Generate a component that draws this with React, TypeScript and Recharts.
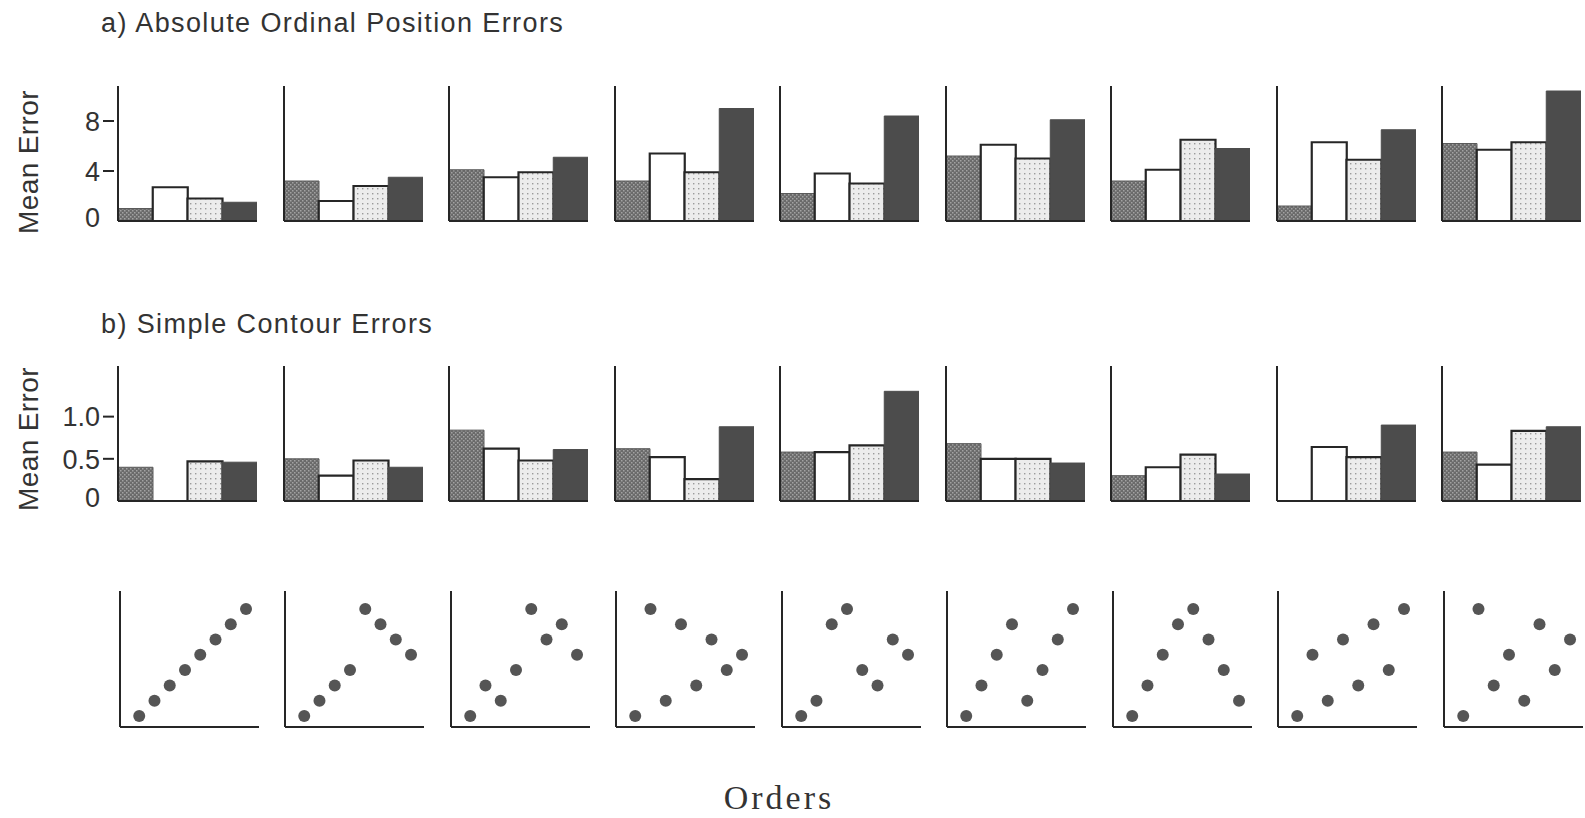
import { BarChart, Bar, XAxis, YAxis, Cell, ScatterChart, Scatter } from "recharts";

// four bars per order panel
const barKinds = ["1", "2", "3", "4"];

// a) absolute ordinal position errors, one row per order
const absoluteErrors: number[][] = [
  [1.0, 2.7, 1.8, 1.5],
  [3.2, 1.6, 2.8, 3.5],
  [4.1, 3.5, 3.9, 5.1],
  [3.2, 5.4, 3.9, 9.0],
  [2.2, 3.8, 3.0, 8.4],
  [5.2, 6.1, 5.0, 8.1],
  [3.2, 4.1, 6.5, 5.8],
  [1.2, 6.3, 4.9, 7.3],
  [6.2, 5.7, 6.3, 10.4],
];
const absoluteTicks = [0, 4, 8];

// b) simple contour errors
const contourErrors: number[][] = [
  [0.4, 0, 0.47, 0.46],
  [0.5, 0.3, 0.48, 0.4],
  [0.84, 0.62, 0.48, 0.61],
  [0.62, 0.52, 0.26, 0.88],
  [0.58, 0.58, 0.66, 1.3],
  [0.68, 0.5, 0.5, 0.45],
  [0.3, 0.4, 0.55, 0.32],
  [0, 0.64, 0.52, 0.9],
  [0.58, 0.43, 0.83, 0.88],
];
const contourTicks = [0, 0.5, 1.0];
const contourTickLabels = ["0", "0.5", "1.0"];

// the orders: rank of each serial position
const positions = [1, 2, 3, 4, 5, 6, 7, 8];
const orderRanks: number[][] = [
  [1, 2, 3, 4, 5, 6, 7, 8],
  [1, 2, 3, 4, 8, 7, 6, 5],
  [1, 3, 2, 4, 8, 6, 7, 5],
  [1, 8, 2, 7, 3, 6, 4, 5],
  [1, 2, 7, 8, 4, 3, 6, 5],
  [1, 3, 5, 7, 2, 4, 6, 8],
  [1, 3, 5, 7, 8, 6, 4, 2],
  [1, 5, 2, 6, 3, 7, 4, 8],
  [1, 8, 3, 5, 2, 7, 4, 6],
];

const PITCH = 165.5;
const FIRST_X = 118;
const PANEL_W = 139;
const PLOT_H = 135;
const PAD_B = 18;
const INK = "#262626";
const TEXT = "#333333";
const SANS = "'Liberation Sans', Arial, Helvetica, sans-serif";

const fills = ["url(#texDark)", "#ffffff", "url(#texLight)", "#4c4c4c"];
const strokes = ["#5a5a5a", INK, INK, "#4c4c4c"];
const strokeWidths = [1, 2.2, 2.2, 1];

function makeTick(ticks: number[], labels: string[]) {
  return (props: any) => {
    const { x, y, payload } = props;
    const v = payload.value;
    const label = labels[ticks.indexOf(v)] ?? String(v);
    return (
      <g>
        {v !== 0 && (
          <line x1={x - 15} x2={x - 4} y1={y} y2={y} stroke={INK} strokeWidth={2} />
        )}
        <text
          x={x - 18}
          y={v === 0 ? y - 4 : y}
          dy="0.36em"
          textAnchor="end"
          fill={TEXT}
          fontSize={27}
          fontFamily={SANS}
        >
          {label}
        </text>
      </g>
    );
  };
}

function BarPanel({
  values,
  index,
  max,
  ticks,
  labels,
  top,
}: {
  values: number[];
  index: number;
  max: number;
  ticks: number[];
  labels: string[];
  top: number;
}) {
  const first = index === 0;
  const yw = first ? 110 : 4;
  const data = barKinds.map((k, i) => ({ kind: k, v: values[i] }));
  const left = FIRST_X + index * PITCH - yw;
  return (
    <div style={{ position: "absolute", left, top }}>
      <BarChart
        width={yw + PANEL_W}
        height={PLOT_H + 1 + PAD_B}
        data={data}
        margin={{ top: 0, right: 0, bottom: PAD_B, left: 0 }}
        barCategoryGap={0}
        barGap={0}
      >
        <XAxis
          dataKey="kind"
          tick={false}
          tickLine={false}
          height={1}
          axisLine={{ stroke: INK, strokeWidth: 2 }}
        />
        <YAxis
          type="number"
          domain={[0, max]}
          ticks={ticks}
          interval={0}
          width={yw}
          tickSize={0}
          tickMargin={0}
          tickLine={false}
          axisLine={{ stroke: INK, strokeWidth: 2 }}
          tick={first ? makeTick(ticks, labels) : false}
          allowDataOverflow
        />
        <Bar dataKey="v" isAnimationActive={false}>
          {data.map((d, i) => (
            <Cell key={d.kind} fill={fills[i]} stroke={strokes[i]} strokeWidth={strokeWidths[i]} />
          ))}
        </Bar>
      </BarChart>
    </div>
  );
}

function OrderPanel({ ranks, index }: { ranks: number[]; index: number }) {
  const data = positions.map((p, i) => ({ pos: p, rank: ranks[i] }));
  return (
    <div style={{ position: "absolute", left: FIRST_X + 1.5 + index * PITCH - 4, top: 591 }}>
      <ScatterChart width={4 + PANEL_W} height={136 + 1} margin={{ top: 0, right: 0, bottom: 0, left: 0 }}>
        <XAxis
          type="number"
          dataKey="pos"
          domain={[-0.26, 8.85]}
          tick={false}
          tickLine={false}
          height={1}
          axisLine={{ stroke: INK, strokeWidth: 2 }}
          allowDataOverflow
        />
        <YAxis
          type="number"
          dataKey="rank"
          domain={[0.28, 9.17]}
          tick={false}
          tickLine={false}
          width={4}
          axisLine={{ stroke: INK, strokeWidth: 2 }}
          allowDataOverflow
        />
        <Scatter
          data={data}
          isAnimationActive={false}
          shape={(p: any) => <circle cx={p.cx} cy={p.cy} r={6} fill="#555555" />}
        />
      </ScatterChart>
    </div>
  );
}

const titleStyle: React.CSSProperties = {
  position: "absolute",
  fontFamily: SANS,
  fontSize: 27,
  letterSpacing: 1.4,
  lineHeight: 1,
  color: TEXT,
  whiteSpace: "nowrap",
};

const meanStyle: React.CSSProperties = {
  position: "absolute",
  fontFamily: SANS,
  fontSize: 28,
  letterSpacing: 0.4,
  lineHeight: 1,
  color: TEXT,
  whiteSpace: "nowrap",
  transform: "translate(-50%, -50%) rotate(-90deg)",
};

export default function App() {
  return (
    <div
      style={{
        position: "absolute",
        left: 0,
        top: 0,
        width: 1585,
        height: 818,
        background: "#ffffff",
        overflow: "hidden",
      }}
    >
      <svg width={0} height={0} style={{ position: "absolute" }}>
        <defs>
          <pattern id="texDark" width={4} height={4} patternUnits="userSpaceOnUse">
            <rect width={4} height={4} fill="#6a6a6a" />
            <rect x={0} y={0} width={1.5} height={1.5} fill="#a2a2a2" />
            <rect x={2} y={2} width={1.5} height={1.5} fill="#a2a2a2" />
          </pattern>
          <pattern id="texLight" width={5} height={5} patternUnits="userSpaceOnUse">
            <rect width={5} height={5} fill="#ececec" />
            <rect x={2} y={2} width={1.4} height={1.4} fill="#9a9a9a" />
          </pattern>
        </defs>
      </svg>

      <div style={{ ...titleStyle, left: 101, top: 10 }}>a) Absolute Ordinal Position Errors</div>
      <div style={{ ...titleStyle, left: 101, top: 311 }}>b) Simple Contour Errors</div>

      <div style={{ ...meanStyle, left: 29, top: 162 }}>Mean Error</div>
      <div style={{ ...meanStyle, left: 29, top: 439 }}>Mean Error</div>

      {absoluteErrors.map((vals, i) => (
        <BarPanel
          key={"a" + i}
          values={vals}
          index={i}
          max={10.8}
          ticks={absoluteTicks}
          labels={absoluteTicks.map(String)}
          top={86}
        />
      ))}
      {contourErrors.map((vals, i) => (
        <BarPanel
          key={"b" + i}
          values={vals}
          index={i}
          max={1.6}
          ticks={contourTicks}
          labels={contourTickLabels}
          top={366}
        />
      ))}
      {orderRanks.map((r, i) => (
        <OrderPanel key={"c" + i} ranks={r} index={i} />
      ))}

      <div
        style={{
          position: "absolute",
          left: 779,
          top: 781,
          transform: "translateX(-50%)",
          fontFamily: "'Liberation Serif', 'Times New Roman', serif",
          fontSize: 34,
          letterSpacing: 3,
          lineHeight: 1,
          color: TEXT,
        }}
      >
        Orders
      </div>
    </div>
  );
}
